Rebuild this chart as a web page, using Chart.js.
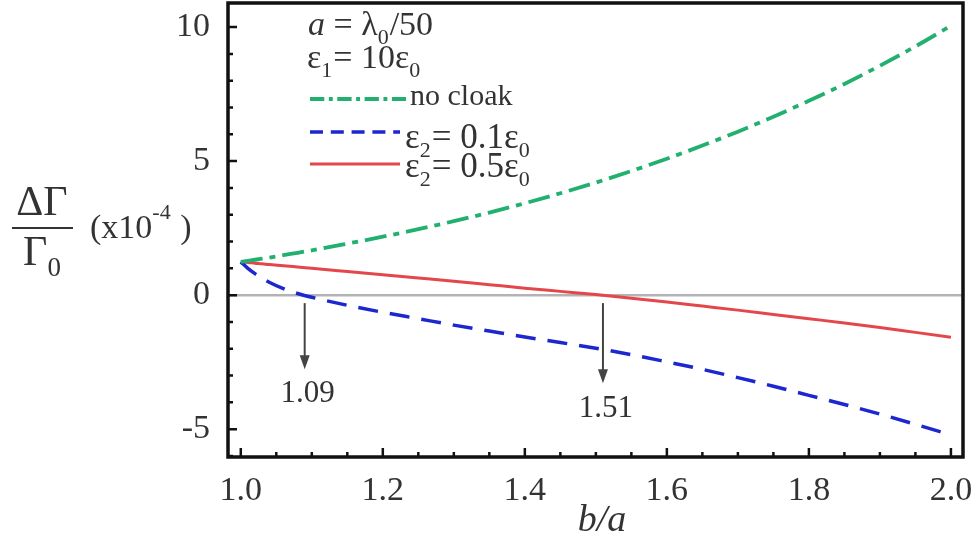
<!DOCTYPE html>
<html>
<head>
<meta charset="utf-8">
<script src="https://cdn.jsdelivr.net/npm/chart.js@4.4.1/dist/chart.umd.min.js"></script>
<style>
  html, body { margin: 0; padding: 0; background: #fff; }
  #wrap { width: 978px; height: 542px; }
</style>
</head>
<body>
<div id="wrap"><canvas id="cloakChart" width="978" height="542"></canvas></div>
<script>
// b/a sample points (denser near 1.0 where the 0.1ε0 curve bends)
const ratio   = [1.00, 1.01, 1.02, 1.03, 1.04, 1.06, 1.08, 1.10, 1.15, 1.20, 1.25, 1.30, 1.35,
                 1.40, 1.45, 1.50, 1.55, 1.60, 1.65, 1.70, 1.75, 1.80, 1.85, 1.90, 1.95, 2.00];
// ΔΓ/Γ0 in units of 1e-4
const noCloak = [1.24, 1.28, 1.32, 1.36, 1.40, 1.49, 1.58, 1.67, 1.92, 2.18, 2.46, 2.76, 3.08,
                 3.43, 3.80, 4.20, 4.63, 5.09, 5.58, 6.10, 6.66, 7.25, 7.88, 8.56, 9.28, 10.05];
const eps01   = [1.24, 1.00, 0.80, 0.63, 0.48, 0.24, 0.06, -0.08, -0.38, -0.64, -0.88, -1.12, -1.34,
                 -1.56, -1.77, -1.98, -2.22, -2.49, -2.77, -3.08, -3.40, -3.74, -4.08, -4.44, -4.82, -5.22];
const eps05   = [1.24, 1.22, 1.19, 1.17, 1.14, 1.10, 1.05, 1.00, 0.88, 0.76, 0.64, 0.52, 0.39,
                 0.26, 0.14, 0.02, -0.12, -0.26, -0.41, -0.56, -0.72, -0.88, -1.04, -1.21, -1.39, -1.57];

const xTicks = [1.0, 1.2, 1.4, 1.6, 1.8, 2.0];
const yTicks = [-5, 0, 5, 10];
// zero crossings of the two cloaked curves
const crossings = [1.09, 1.51];

// legend / note texts as runs (sub = subscript, it = italic)
const noteLines = [
  [{t:'a', it:1}, {t:' = λ'}, {t:'0', sub:1}, {t:'/50'}],
  [{t:'ε'}, {t:'1', sub:1}, {t:'= 10ε'}, {t:'0', sub:1}]
];
const legendText = [
  [{t:'no cloak'}],
  [{t:'ε'}, {t:'2', sub:1}, {t:'= 0.1ε'}, {t:'0', sub:1}],
  [{t:'ε'}, {t:'2', sub:1}, {t:'= 0.5ε'}, {t:'0', sub:1}]
];

const TEXT = '#333';
const SERIF = '"Liberation Serif", "Times New Roman", serif';

function pts(ys) { return ratio.map((x, i) => ({x, y: ys[i]})); }

function drawRich(ctx, runs, x, y, size) {
  runs.forEach(r => {
    const small = r.sub || r.sup;
    const s = small ? Math.round(size * 0.64) : size;
    ctx.font = (r.it ? 'italic ' : '') + s + 'px ' + SERIF;
    const dy = r.sub ? size * 0.26 : r.sup ? -size * 0.55 : 0;
    ctx.fillText(r.t, x, y + dy);
    x += ctx.measureText(r.t).width + (small ? 1 : 0);
  });
  return x;
}
function richWidth(ctx, runs, size) {
  let w = 0;
  runs.forEach(r => {
    const s = (r.sub || r.sup) ? Math.round(size * 0.64) : size;
    ctx.font = (r.it ? 'italic ' : '') + s + 'px ' + SERIF;
    w += ctx.measureText(r.t).width;
  });
  return w;
}

// gray zero line under the curves
const zeroLine = {
  id: 'zeroLine',
  beforeDatasetsDraw(chart) {
    const {ctx, chartArea: a, scales: {y}} = chart;
    const py = y.getPixelForValue(0);
    ctx.save();
    ctx.strokeStyle = '#b3b3b3';
    ctx.lineWidth = 2.5;
    ctx.beginPath();
    ctx.moveTo(a.left, py);
    ctx.lineTo(a.right, py);
    ctx.stroke();
    ctx.restore();
  }
};

// frame, inward ticks, arrows, notes, legend and axis titles
const decorations = {
  id: 'decorations',
  afterDraw(chart) {
    const {ctx, chartArea: a, scales: {x, y}} = chart;
    ctx.save();

    // frame
    ctx.strokeStyle = '#111';
    ctx.lineWidth = 3.5;
    ctx.strokeRect(a.left, a.top, a.right - a.left, a.bottom - a.top);

    // ticks pointing into the plot
    ctx.lineWidth = 2.5;
    ctx.beginPath();
    for (let v = -6; v <= 10; v++) {
      const py = y.getPixelForValue(v);
      const len = v % 5 === 0 ? 9 : 5;
      ctx.moveTo(a.left, py); ctx.lineTo(a.left + len, py);
    }
    for (let i = 0; i <= 20; i++) {
      const v = 1 + i * 0.05;
      const px = x.getPixelForValue(v);
      const len = i % 4 === 0 ? 9 : 5;
      ctx.moveTo(px, a.bottom); ctx.lineTo(px, a.bottom - len);
    }
    ctx.stroke();

    // arrows at the zero crossings
    const arrowLen = [74, 88];
    const labelDrop = [107, 122];
    const y0 = y.getPixelForValue(0);
    ctx.strokeStyle = '#444';
    ctx.fillStyle = '#444';
    ctx.lineWidth = 2;
    crossings.forEach((c, i) => {
      const px = x.getPixelForValue(c);
      const top = y0 + 8, tip = y0 + arrowLen[i];
      ctx.beginPath();
      ctx.moveTo(px, top); ctx.lineTo(px, tip - 10);
      ctx.stroke();
      ctx.beginPath();
      ctx.moveTo(px - 5, tip - 14); ctx.lineTo(px + 5, tip - 14); ctx.lineTo(px, tip);
      ctx.closePath(); ctx.fill();
      ctx.fillStyle = TEXT;
      ctx.font = '31px ' + SERIF;
      ctx.textAlign = 'center';
      ctx.textBaseline = 'alphabetic';
      ctx.fillText(c.toFixed(2), px + 3, y0 + labelDrop[i]);
      ctx.fillStyle = '#444';
    });

    // notes and legend
    ctx.textAlign = 'left';
    ctx.textBaseline = 'alphabetic';
    ctx.fillStyle = TEXT;
    drawRich(ctx, noteLines[0], 308, 35, 34);
    drawRich(ctx, noteLines[1], 307, 68, 34);

    const rowY = [99, 132, 164];
    const textY = [105, 148, 177];
    const textX = [410, 405, 405];
    const textSize = [30, 35, 35];
    chart.data.datasets.forEach((ds, i) => {
      ctx.save();
      ctx.strokeStyle = ds.borderColor;
      ctx.lineWidth = ds.borderWidth;
      // legend samples use a tighter dash than the curves
      ctx.setLineDash((ds.borderDash || []).map(d => d * 0.65));
      ctx.beginPath();
      ctx.moveTo(310, rowY[i]); ctx.lineTo(i === 0 ? 406 : 400, rowY[i]);
      ctx.stroke();
      ctx.restore();
      ctx.fillStyle = TEXT;
      drawRich(ctx, legendText[i], textX[i], textY[i], textSize[i]);
    });

    // y title: ΔΓ / Γ0 (x10^-4)
    ctx.fillStyle = TEXT;
    ctx.font = '42px ' + SERIF;
    ctx.textAlign = 'center';
    ctx.fillText('ΔΓ', 42, 215);
    ctx.strokeStyle = TEXT;
    ctx.lineWidth = 2;
    ctx.beginPath(); ctx.moveTo(12, 228); ctx.lineTo(73, 228); ctx.stroke();
    ctx.textAlign = 'left';
    const den = [{t:'Γ'}, {t:'0', sub:1}];
    drawRich(ctx, den, 42 - richWidth(ctx, den, 42) / 2, 265, 42);
    drawRich(ctx, [{t:'(x10'}, {t:'-4', sup:1}, {t:' )'}], 90, 238, 34);

    // x title
    ctx.font = 'italic 38px ' + SERIF;
    ctx.textAlign = 'center';
    ctx.fillText('b/a', 602, 531);

    ctx.restore();
  }
};

new Chart(document.getElementById('cloakChart'), {
  type: 'line',
  data: {
    datasets: [
      { label: 'no cloak', data: pts(noCloak), borderColor: '#22b06f', borderWidth: 3.8,
        borderDash: [22, 7, 6, 7] },
      { label: 'ε2 = 0.1ε0', data: pts(eps01), borderColor: '#1c27cf', borderWidth: 3.5,
        borderDash: [20, 12] },
      { label: 'ε2 = 0.5ε0', data: pts(eps05), borderColor: '#e4474b', borderWidth: 3 }
    ]
  },
  options: {
    responsive: false,
    animation: false,
    layout: { padding: { top: 3, right: 15, left: 0, bottom: 0 } },
    elements: { point: { radius: 0 }, line: { fill: false, cubicInterpolationMode: 'monotone' } },
    plugins: { legend: { display: false }, tooltip: { enabled: false } },
    scales: {
      x: {
        type: 'linear', min: 0.982, max: 2.017,
        grid: { display: false }, border: { display: false },
        afterBuildTicks: s => { s.ticks = xTicks.map(v => ({value: v})); },
        afterFit: s => { s.height = 85; s.paddingLeft = 0; s.paddingRight = 0; },
        ticks: { padding: 6, color: TEXT, font: { family: SERIF, size: 34 },
                 maxRotation: 0, callback: v => v.toFixed(1) }
      },
      y: {
        min: -6.04, max: 10.9,
        grid: { display: false }, border: { display: false },
        afterBuildTicks: s => { s.ticks = yTicks.map(v => ({value: v})); },
        afterFit: s => { s.width = 228; s.paddingTop = 0; s.paddingBottom = 0; },
        ticks: { padding: 10, color: TEXT, font: { family: SERIF, size: 34 } }
      }
    }
  },
  plugins: [zeroLine, decorations]
});
</script>
</body>
</html>
